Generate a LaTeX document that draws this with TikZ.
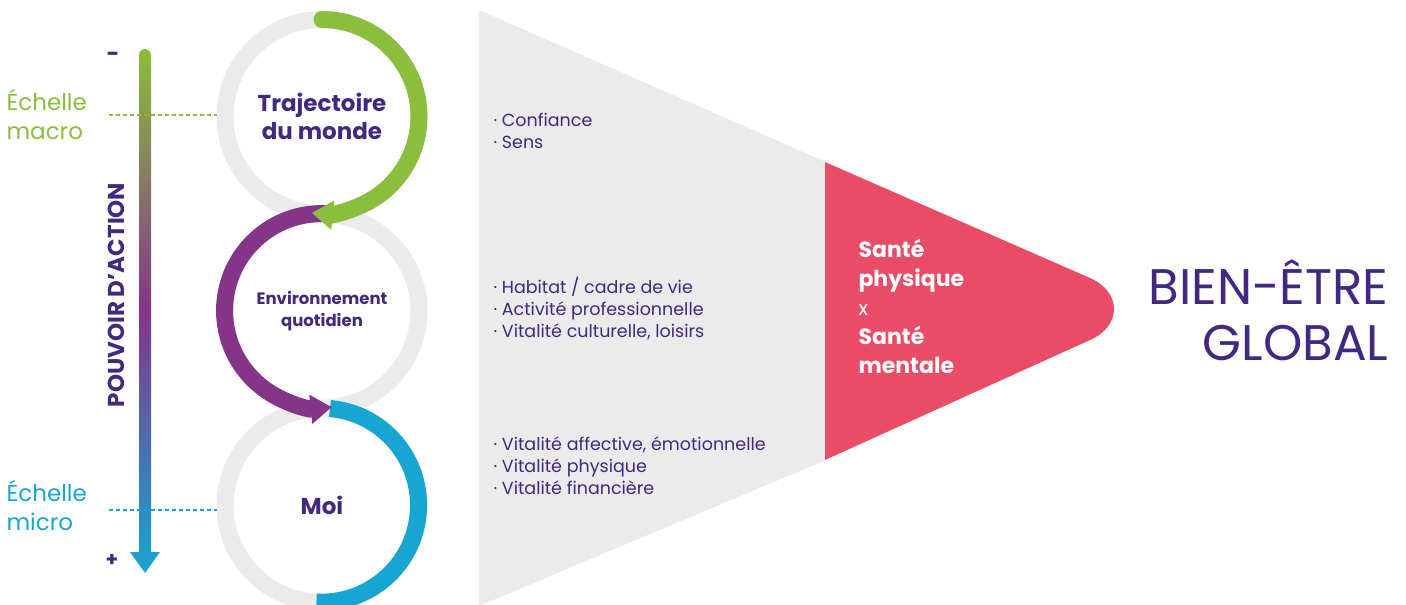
\documentclass[tikz,border=0pt]{standalone}
\usepackage{fontspec}
\setmainfont{Poppins}
\usetikzlibrary{arrows.meta}
\definecolor{ink}{HTML}{43287F}
\definecolor{gmacro}{HTML}{8BBE3C}
\definecolor{pmid}{HTML}{84358A}
\definecolor{bmicro}{HTML}{17A6D2}
\definecolor{ringgrey}{HTML}{EBEBEB}
\definecolor{santered}{HTML}{E94C66}
\tikzset{
  ring/.style={circle, draw=ringgrey, line width=17pt, minimum size=194pt, inner sep=0pt, outer sep=0pt, align=center, text=ink, font=\bfseries\fontsize{23}{28}\selectfont},
  arcline/.style={line width=17pt},
  bullets/.style={anchor=west, align=left, text=ink, font=\fontsize{17.5}{22}\selectfont},
  scalelabel/.style={anchor=west, align=left, font=\fontsize{23}{29}\selectfont},
  dashline/.style={line width=1.4pt, dash pattern=on 4pt off 3pt},
}
\begin{document}
\begin{tikzpicture}[x=1pt,y=-1pt]
\useasboundingbox (0,0) rectangle (1406,605);
\begin{scope}
\clip (0,0) rectangle (1406,605);
% funnel
\fill[ringgrey] (479,10) -- (826,162) -- (826,460) -- (479,606) -- cycle;
\fill[santered] (825,162) -- (1090,278) .. controls (1122,292) and (1122,326) .. (1090,340) -- (825,460) -- cycle;
% rings
\node[ring] (traj) at (322,116.5) {Trajectoire\\du monde};
\node[ring, font=\bfseries\fontsize{16.5}{22}\selectfont] (env) at (322,311) {Environnement\\quotidien};
\node[ring] (moi) at (322,505.5) {Moi};
% arcs
\draw[arcline, bmicro] ([xshift=8pt]moi.north) arc[start angle=-85, end angle=93, radius=97];
\draw[arcline, pmid, -{Triangle[length=21pt,width=28pt]}] ([xshift=8pt]env.north) arc[start angle=275, end angle=84, radius=97];
\draw[arcline, gmacro, line cap=round, -{Triangle[length=21pt,width=28pt]}] (traj.north) arc[start angle=-90, end angle=96, radius=97];
\end{scope}
% power arrow
\shade[top color=gmacro, bottom color=bmicro, middle color=pmid]
  (130,552) -- (139,552) -- (139,55) arc[start angle=180, end angle=360, radius=6] -- (151,552) -- (160,552) -- (145,573) -- cycle;
\node[text=ink, font=\bfseries\fontsize{23}{23}\selectfont, rotate=90] (pouvoir) at (116,295) {POUVOIR D’ACTION};
\node[text=ink, font=\bfseries\fontsize{22}{22}\selectfont] (minus) at (113,57) {-};
\node[text=ink, font=\bfseries\fontsize{20}{20}\selectfont] (plus) at (112,560) {+};
% scale labels
\node[scalelabel, text=gmacro] (macro) at (3,114) {Échelle\\macro};
\node[scalelabel, text=bmicro] (micro) at (3,505) {Échelle\\micro};
\coordinate (macroA) at (109,115);
\coordinate (microA) at (109,510);
\draw[dashline, gmacro] (macroA) -- ([xshift=-8pt]traj.west |- macroA);
\draw[dashline, bmicro] (microA) -- ([xshift=-8pt]moi.west |- microA);
% bullets
\node[bullets] (b1) at (490,131) {· Confiance\\· Sens};
\node[bullets] (b2) at (490,309) {· Habitat / cadre de vie\\· Activité professionnelle\\· Vitalité culturelle, loisirs};
\node[bullets] (b3) at (490,466) {· Vitalité affective, émotionnelle\\· Vitalité physique\\· Vitalité financière};
% sante
\node[anchor=west, align=left, text=white, font=\bfseries\fontsize{22}{29}\selectfont] (sante) at (855,306) {Santé\\physique\\{\mdseries\fontsize{20}{29}\selectfont x}\\Santé\\mentale};
% bien-etre
\node[anchor=east, align=right, text=ink, font=\fontsize{50}{56}\selectfont] (be) at (1392,310) {BIEN-ÊTRE\\GLOBAL};
\end{tikzpicture}
\end{document}
